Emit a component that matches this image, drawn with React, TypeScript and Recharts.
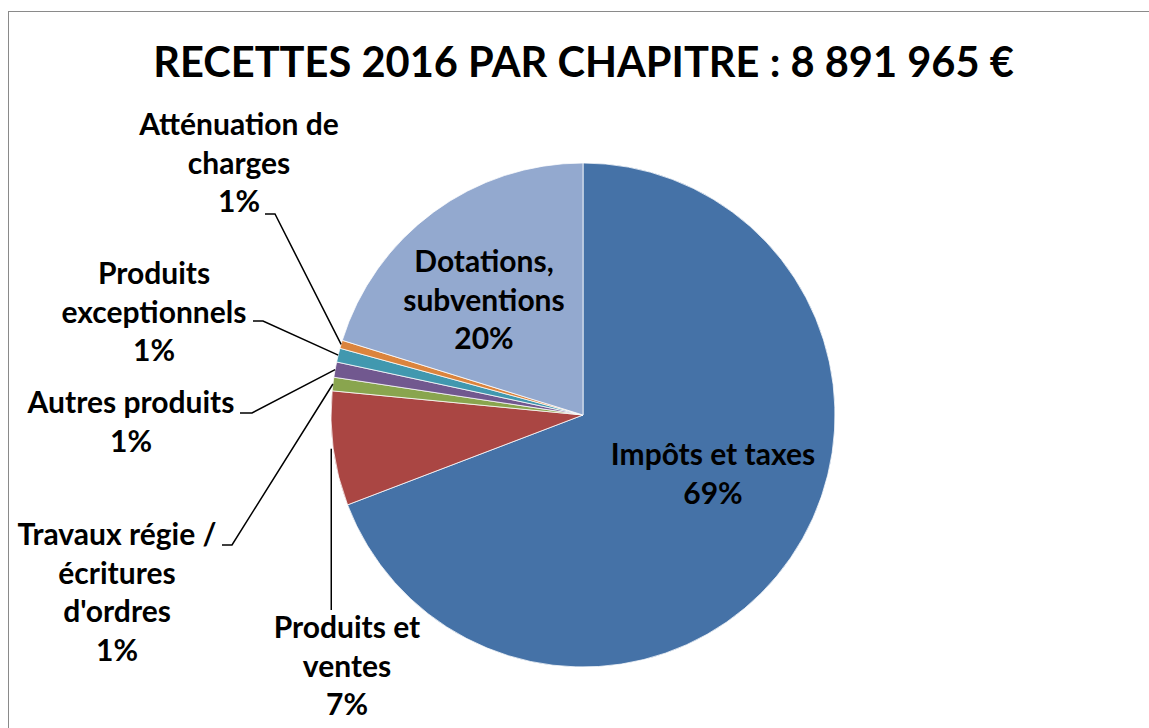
import React from 'react';
import { PieChart, Pie, Cell } from 'recharts';

const title = 'RECETTES 2016 PAR CHAPITRE : 8 891 965 €';
const categories = [
  'Impôts et taxes',
  'Produits et ventes',
  "Travaux régie / écritures d'ordres",
  'Autres produits',
  'Produits exceptionnels',
  'Atténuation de charges',
  'Dotations, subventions',
];
const amounts = [6153000, 652000, 77000, 87000, 79000, 46500, 1797465];
const labelLines = [
  ['Impôts et taxes'],
  ['Produits et', 'ventes'],
  ['Travaux régie /', 'écritures', "d'ordres"],
  ['Autres produits'],
  ['Produits', 'exceptionnels'],
  ['Atténuation de', 'charges'],
  ['Dotations,', 'subventions'],
];
const colors = ['#4572A7', '#AA4643', '#89A54E', '#71588F', '#4198AF', '#DB843D', '#93A9CF'];

const data = categories.map((name, i) => ({ name, value: amounts[i] }));

const FONT = 'Lato, "Open Sans", sans-serif';
const LINE_H = 38.7;

type Leader = { dy: number; x1: number; x2: number };
type Layout = { dx: number; dy: number; vertical?: boolean; leader?: Leader };
// label block positions relative to pie centre
const layouts: Layout[] = [
  { dx: 130, dy: 50 },
  { dx: -236, dy: 223, vertical: true },
  { dx: -466, dy: 130, leader: { dy: 130, x1: -361, x2: -351 } },
  { dx: -452, dy: -2, leader: { dy: -2, x1: -343, x2: -331 } },
  { dx: -429, dy: -131, leader: { dy: -94, x1: -330, x2: -320 } },
  { dx: -344, dy: -280, leader: { dy: -201, x1: -318, x2: -308 } },
  { dx: -99, dy: -143 },
];

const RAD = Math.PI / 180;

const renderLabel = (props: any) => {
  const { cx, cy, midAngle, outerRadius, percent, index } = props;
  const L = layouts[index];
  const px = cx + outerRadius * Math.cos(-midAngle * RAD);
  const py = cy + outerRadius * Math.sin(-midAngle * RAD);
  const lines = [...labelLines[index], `${Math.round(percent * 100)}%`];
  const tx = cx + L.dx;
  const ty = cy + L.dy;
  let leader: React.ReactNode = null;
  if (L.vertical) {
    leader = <line x1={px - 2} y1={ty - 28} x2={px - 2} y2={py} stroke="#000" strokeWidth={1.5} />;
  } else if (L.leader) {
    const ly = cy + L.leader.dy;
    leader = (
      <polyline
        points={`${cx + L.leader.x1},${ly} ${cx + L.leader.x2},${ly} ${px},${py}`}
        fill="none"
        stroke="#000"
        strokeWidth={1.5}
      />
    );
  }
  return (
    <g key={`lbl-${index}`}>
      {leader}
      <text
        x={tx}
        y={ty}
        textAnchor="middle"
        fontFamily={FONT}
        fontWeight={700}
        fontSize={30}
        fill="#000"
      >
        {lines.map((t, i) => (
          <tspan key={i} x={tx} y={ty + i * LINE_H}>
            {t}
          </tspan>
        ))}
      </text>
    </g>
  );
};

export default function App() {
  return (
    <div
      style={{
        position: 'absolute',
        left: 0,
        top: 0,
        width: 1149,
        height: 728,
        background: '#fff',
        overflow: 'hidden',
      }}
    >
      <div
        style={{
          position: 'absolute',
          left: 8,
          top: 11,
          width: 2000,
          height: 2000,
          borderLeft: '1.5px solid #8a8a8a',
          borderTop: '1.5px solid #8a8a8a',
        }}
      />
      <svg width={1149} height={100} style={{ position: 'absolute', left: 0, top: 0 }}>
        <text
          x={583.5}
          y={77}
          textAnchor="middle"
          fontFamily={FONT}
          fontWeight={700}
          fontSize={41.6}
          fill="#000"
        >
          {title}
        </text>
      </svg>
      <div style={{ position: 'absolute', left: 0, top: 0 }}>
        <PieChart width={1149} height={728} margin={{ top: 0, right: 0, bottom: 0, left: 0 }}>
          <Pie
            data={data}
            dataKey="value"
            nameKey="name"
            cx={583}
            cy={415}
            outerRadius={252}
            startAngle={90}
            endAngle={-270}
            stroke="#ffffff"
            strokeWidth={0.75}
            label={renderLabel}
            labelLine={false}
            isAnimationActive={false}
          >
            {data.map((d, i) => (
              <Cell key={d.name} fill={colors[i]} />
            ))}
          </Pie>
        </PieChart>
      </div>
    </div>
  );
}
